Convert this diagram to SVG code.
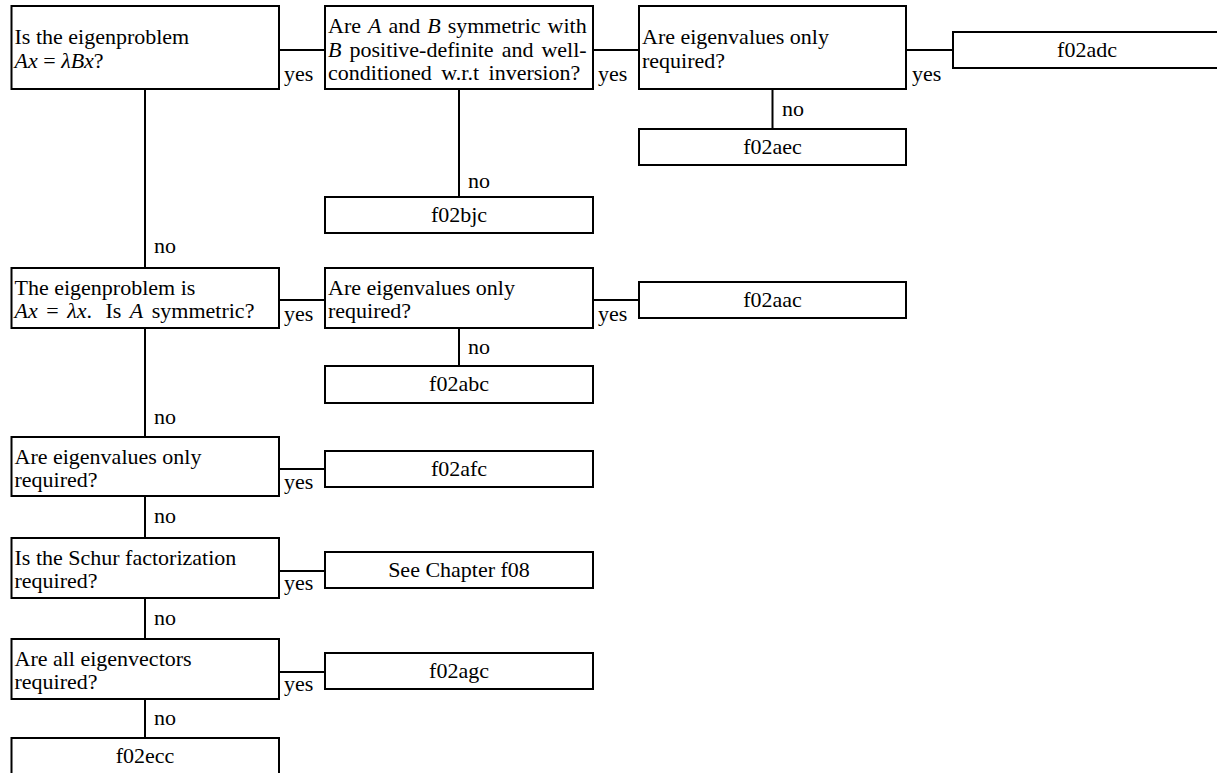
<svg xmlns="http://www.w3.org/2000/svg" width="1217" height="773" viewBox="0 0 1217 773">
<style>
.box{fill:#fff;stroke:#000;stroke-width:2}
.ln{stroke:#000;stroke-width:2;fill:none}
text{font-family:"Liberation Serif","Times New Roman",serif;font-size:22px;fill:#000}
.c{text-anchor:middle}
.i{font-style:italic}
</style>
<rect width="1217" height="773" fill="#fff"/>
<g id="connectors">
<path class="ln" d="M279 50H325M593 50H639M906 50H953M772.5 89V129M459 89V197M145 89V268M279 300H325M593 300H639M459 328V366M145 328V437M279 469H325M145 496V538M279 571H325M145 598V639M279 672H325M145 699V738"/>
<text x="284" y="81">yes</text>
<text x="598" y="81">yes</text>
<text x="912" y="81">yes</text>
<text x="782" y="116">no</text>
<text x="468" y="188">no</text>
<text x="154" y="253">no</text>
<text x="284" y="321">yes</text>
<text x="598" y="321">yes</text>
<text x="468" y="354">no</text>
<text x="154" y="424">no</text>
<text x="284" y="489">yes</text>
<text x="154" y="523">no</text>
<text x="284" y="590">yes</text>
<text x="154" y="625">no</text>
<text x="284" y="691">yes</text>
<text x="154" y="725">no</text>
</g>
<g id="q1">
<rect class="box" x="11.5" y="6" width="267.5" height="83"/>
<text x="14.5" y="44">Is the eigenproblem</text>
<text x="14.5" y="68"><tspan class="i">Ax</tspan> = <tspan class="i">λBx</tspan>?</text>
</g>
<g id="q2">
<rect class="box" x="325" y="6" width="268" height="83"/>
<text x="328" y="33" word-spacing="1.5">Are <tspan class="i">A</tspan> and <tspan class="i">B</tspan> symmetric with</text>
<text x="328" y="57" word-spacing="2.5"><tspan class="i">B</tspan> positive-definite and well-</text>
<text x="328" y="80" word-spacing="4">conditioned w.r.t inversion?</text>
</g>
<g id="q3">
<rect class="box" x="639" y="6" width="267" height="83"/>
<text x="642" y="44">Are eigenvalues only</text>
<text x="642" y="68">required?</text>
</g>
<g id="f02adc">
<rect class="box" x="953" y="32" width="268" height="36"/>
<text class="c" x="1087" y="57">f02adc</text>
</g>
<g id="f02aec">
<rect class="box" x="639" y="129" width="267" height="36"/>
<text class="c" x="772.5" y="154">f02aec</text>
</g>
<g id="f02bjc">
<rect class="box" x="325" y="197" width="268" height="36"/>
<text class="c" x="459" y="222">f02bjc</text>
</g>
<g id="q4">
<rect class="box" x="11.5" y="268" width="267.5" height="60"/>
<text x="14.5" y="295">The eigenproblem is</text>
<text x="14.5" y="318" word-spacing="3"><tspan class="i">Ax</tspan> = <tspan class="i">λx</tspan>. <tspan dx="5">Is</tspan> <tspan class="i">A</tspan> symmetric?</text>
</g>
<g id="q5">
<rect class="box" x="325" y="268" width="268" height="60"/>
<text x="328" y="295">Are eigenvalues only</text>
<text x="328" y="318">required?</text>
</g>
<g id="f02aac">
<rect class="box" x="639" y="282" width="267" height="36"/>
<text class="c" x="772.5" y="307">f02aac</text>
</g>
<g id="f02abc">
<rect class="box" x="325" y="366" width="268" height="37"/>
<text class="c" x="459" y="391">f02abc</text>
</g>
<g id="q6">
<rect class="box" x="11.5" y="437" width="267.5" height="59"/>
<text x="14.5" y="464">Are eigenvalues only</text>
<text x="14.5" y="487">required?</text>
</g>
<g id="f02afc">
<rect class="box" x="325" y="451" width="268" height="36"/>
<text class="c" x="459" y="476">f02afc</text>
</g>
<g id="q7">
<rect class="box" x="11.5" y="538" width="267.5" height="60"/>
<text x="14.5" y="565">Is the Schur factorization</text>
<text x="14.5" y="588">required?</text>
</g>
<g id="f08">
<rect class="box" x="325" y="552" width="268" height="36"/>
<text class="c" x="459" y="577">See Chapter f08</text>
</g>
<g id="q8">
<rect class="box" x="11.5" y="639" width="267.5" height="60"/>
<text x="14.5" y="666">Are all eigenvectors</text>
<text x="14.5" y="689">required?</text>
</g>
<g id="f02agc">
<rect class="box" x="325" y="653" width="268" height="36"/>
<text class="c" x="459" y="678">f02agc</text>
</g>
<g id="f02ecc">
<rect class="box" x="11.5" y="738" width="267.5" height="40"/>
<text class="c" x="145" y="763">f02ecc</text>
</g>
</svg>
